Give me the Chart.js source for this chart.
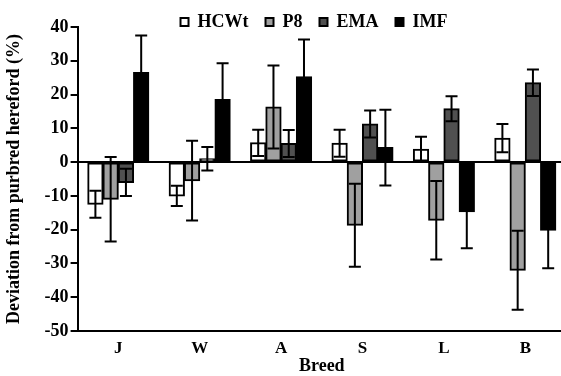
<!DOCTYPE html>
<html>
<head>
<meta charset="utf-8">
<script src="https://cdn.jsdelivr.net/npm/chart.js@4.4.0/dist/chart.umd.min.js"></script>
<style>
  html, body { margin: 0; padding: 0; background: #fff; overflow: hidden; }
  #wrap { width: 566px; height: 376px; }
</style>
</head>
<body>
<div id="wrap"><canvas id="breedChart" width="566" height="376"></canvas></div>
<script>
// breeds along x
const breeds = ['J', 'W', 'A', 'S', 'L', 'B']

// deviation from purebred hereford (%) and their error bars
const hcwt = [-12.5, -10, 5.7, 5.6, 3.8, 7.1]
const hcwtErr = [4, 3, 3.9, 4, 3.7, 4.2]
const p8 = [-11, -5.5, 16.3, -18.7, -17.2, -32]
const p8Err = [12.5, 11.8, 12.3, 12.3, 11.6, 11.7]
const ema = [-6, 1, 5.5, 11.3, 15.8, 23.5]
const emaErr = [4, 3.5, 4, 4, 3.7, 3.9]
const imf = [26.5, 18.5, 25.3, 4.3, -14.7, -20.2]
const imfErr = [11, 10.8, 11, 11.2, 10.8, 11.2]

const yTicks = [-50, -40, -30, -20, -10, 0, 10, 20, 30, 40]

const serif = '"Liberation Serif", "Times New Roman", serif'

// draws the error bars over each bar
const errorBars = {
    id: 'errorBars',
    afterDatasetsDraw(chart) {
        const ctx = chart.ctx
        const yScale = chart.scales.y
        ctx.save()
        ctx.strokeStyle = '#000'
        ctx.lineWidth = 2
        chart.data.datasets.forEach((ds, i) => {
            const meta = chart.getDatasetMeta(i)
            meta.data.forEach((bar, j) => {
                const v = ds.data[j]
                const e = ds.errors[j]
                const top = yScale.getPixelForValue(v + e)
                const bot = yScale.getPixelForValue(v - e)
                const half = 6
                ctx.beginPath()
                ctx.moveTo(bar.x, top)
                ctx.lineTo(bar.x, bot)
                ctx.moveTo(bar.x - half, top)
                ctx.lineTo(bar.x + half, top)
                ctx.moveTo(bar.x - half, bot)
                ctx.lineTo(bar.x + half, bot)
                ctx.stroke()
            })
        })
        ctx.restore()
    }
}

// legend sits a bit right of the canvas centre in the original, and high up
const legendShift = {
    id: 'legendShift',
    afterLayout(chart) {
        if (chart.legend) {
            chart.legend.left += 60
            chart.legend.top -= 4
        }
    }
}

function makeSet(label, values, errors, fill) {
    return {
        label: label,
        data: values,
        errors: errors,
        backgroundColor: fill,
        borderColor: '#000',
        borderWidth: 2,
        borderSkipped: false,
        inflateAmount: 0.5,
        categoryPercentage: 0.75,
        barPercentage: 1.0
    }
}

const data = {
    labels: breeds,
    datasets: [
        makeSet('HCWt', hcwt, hcwtErr, '#ffffff'),
        makeSet('P8', p8, p8Err, '#a0a0a0'),
        makeSet('EMA', ema, emaErr, '#505050'),
        makeSet('IMF', imf, imfErr, '#000000')
    ]
}

const config = {
    type: 'bar',
    data,
    options: {
        responsive: false,
        devicePixelRatio: 1,
        animation: false,
        layout: { padding: { left: 2, right: 0, top: 0, bottom: 1 } },
        plugins: {
            tooltip: { enabled: false },
            legend: {
                position: 'top',
                maxHeight: 27,
                labels: {
                    color: '#000',
                    boxWidth: 8,
                    boxHeight: 8,
                    padding: 17,
                    font: { family: serif, size: 18, weight: 'bold' }
                }
            }
        },
        scales: {
            x: {
                grid: { display: false, drawTicks: false },
                border: { color: '#000', width: 2 },
                ticks: {
                    color: '#000',
                    padding: 9,
                    font: { family: serif, size: 17, weight: 'bold', lineHeight: 1 }
                },
                title: {
                    display: true,
                    text: 'Breed',
                    color: '#000',
                    padding: { top: -9, bottom: 0 },
                    font: { family: serif, size: 18, weight: 'bold', lineHeight: 1 }
                }
            },
            y: {
                min: -50,
                max: 40,
                afterBuildTicks: axis => { axis.ticks = yTicks.map(v => ({ value: v })) },
                grid: {
                    color: c => (c.tick && c.tick.value === 0) ? '#000' : 'rgba(0,0,0,0)',
                    tickColor: '#000',
                    lineWidth: 2,
                    tickLength: 7
                },
                border: { color: '#000', width: 2 },
                ticks: {
                    color: '#000',
                    padding: 2,
                    font: { family: serif, size: 18, weight: 'bold' }
                },
                title: {
                    display: true,
                    text: 'Deviation from purbred hereford (%)',
                    color: '#000',
                    padding: { top: 2, bottom: 17 },
                    font: { family: serif, size: 18, weight: 'bold' }
                }
            }
        }
    },
    plugins: [errorBars, legendShift]
}

const myChart = new Chart(document.getElementById('breedChart'), config)
</script>
</body>
</html>
